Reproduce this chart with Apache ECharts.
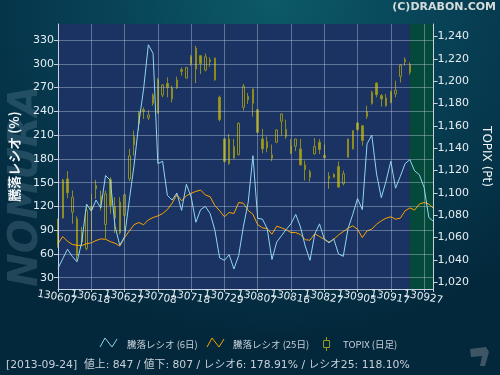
<!DOCTYPE html>
<html><head><meta charset="utf-8">
<script src="https://cdn.jsdelivr.net/npm/echarts@6/dist/echarts.min.js"></script>
<style>
html,body{margin:0;padding:0;background:#03263a}
#c{width:500px;height:375px;background:radial-gradient(ellipse 75% 90% at 55% 0%, #0c5a69 0%, #084257 45%, #03283c 100%)}
</style>
</head><body><div id="c"></div>
<script>
const categories = [
'130607','130610','130611','130612','130613','130614','130617','130618','130619','130620','130621','130624','130625','130626','130627','130628',
'130701','130702','130703','130704','130705','130708','130709','130710','130711','130712','130716','130717','130718','130719','130722','130723','130724','130725','130726','130729','130730','130731',
'130801','130802','130805','130806','130807','130808','130809','130812','130813','130814','130815','130816','130819','130820','130821','130822','130823','130826','130827','130828','130829','130830',
'130902','130903','130904','130905','130906','130909','130910','130911','130912','130913','130917','130918','130919','130920','130924','130925','130926','130927','130930',
'131001'];

// 騰落レシオ (6日)
const ratio6 = [42,54,66,57,50,75,123,114,128,118,159,153,95,71,82,128,172,225,268,324,
313,174,177,134,128,137,115,148,132,100,116,120,111,90,55,52,59,41,58,95,
125,184,105,104,92,53,75,83,91,98,110,94,70,52,85,98,79,74,79,60,
57,92,110,130,116,199,210,161,131,152,177,143,158,174,179,165,160,144,106,101];

// 騰落レシオ (25日)
const ratio25 = [73,82,76,72,71,70.6,73,74,77,79,78.6,75.6,73.5,70,80.7,89,97,99.7,96.8,103,
106,108,111,116,124,134.8,127,133.5,136.5,139,140.7,134.4,132.3,121,114.5,107,112.4,111,125,124,
115,110,97,93,92,85,95,93,90.5,87,87,84.5,78,77.3,85.5,82,78.5,75,78.5,84,
88.3,92.5,95.5,91.2,80.7,89.2,91.3,97.6,101.8,105.2,106.9,103.9,105.2,114.5,118.1,115.4,123,125,123,117.5];

// TOPIX daily: [open, close, low, high]
const topix = [
[1053.1,1056.6,1051,1076.9],[1077.5,1111.7,1077,1112.5],[1112.6,1100.1,1095.3,1119.5],[1082.8,1096.2,1072.4,1102.2],
[1076.9,1044.1,1039.7,1079],[1064.1,1056.1,1053,1069.5],[1050.1,1084.3,1048.6,1087.3],[1087.9,1085.2,1057.5,1099.2],
[1103.7,1106.7,1094.7,1111.7],[1097.1,1090.9,1084.3,1102.2],[1071.8,1099.2,1059,1102.2],[1112,1088.8,1081.4,1114.1],
[1087.9,1077.5,1064.1,1096.2],[1091.8,1064.1,1062.9,1096.2],[1079.9,1098.3,1066.5,1099.2],[1112.6,1133.2,1110.5,1139.4],
[1143,1150.4,1133.5,1155.8],[1161.7,1172.2,1155.8,1173.6],[1174.5,1173.1,1166.2,1176.6],[1167.1,1169.8,1165.3,1174.2],
[1180.2,1187.6,1178.1,1189.1],[1201.3,1171.3,1171,1202.8],[1187.6,1196.6,1185.6,1197.5],[1198,1194.5,1185.6,1203.4],
[1184.1,1193.9,1181.1,1196],[1194.5,1201,1193,1204],[1210.3,1208.8,1204.9,1212.3],[1202.8,1212.3,1202.5,1212.6],
[1215.9,1221.9,1213.8,1223.4],[1229.6,1210.9,1198.3,1231.7],[1222.8,1215.9,1206.4,1223.1],[1210,1221.9,1208.8,1224.9],
[1218.9,1217.7,1212.9,1221.3],[1220.7,1201.3,1200.4,1221],[1185.6,1165.6,1164.1,1187.1],[1148.3,1128.1,1127.5,1149.2],
[1126,1148.3,1125.4,1152.8],[1141.5,1131.1,1131,1148.3],[1134.2,1162.4,1133.5,1163],[1176.6,1195.4,1173.7,1197.5],
[1186.4,1183.5,1179.6,1189.4],[1180.2,1193,1168.3,1193.5],[1174.5,1154.3,1153.4,1175.1],[1148.3,1139.4,1135.5,1157.3],
[1146,1140.3,1136.4,1150.4],[1131.1,1134.1,1128.4,1143.3],[1145.4,1156.4,1144.5,1156.7],[1164.1,1170.7,1151.3,1171.3],
[1156.7,1150.4,1148.3,1165.6],[1135.5,1142.1,1134.9,1148.3],[1141.8,1148.3,1137.3,1148.6],[1139.4,1125.1,1124.5,1148.3],
[1125.1,1120.9,1111.1,1129],[1114.1,1118.9,1110.2,1120.7],[1134.9,1141.5,1134.3,1149.2],[1145.4,1138.8,1134.9,1148.3],
[1133.5,1131.7,1130.5,1143.3],[1115,1112.6,1103.7,1118.6],[1114.1,1116.5,1113.5,1117.7],[1123.6,1105.2,1104.6,1128.1],
[1108.2,1117.1,1106.7,1120.1],[1132,1148.3,1131.5,1148.6],[1139.4,1155.8,1139,1156.1],[1162.6,1156.7,1155.8,1163.2],
[1160.2,1146.9,1142.4,1160.5],[1168.3,1172.8,1166.2,1178.1],[1180.2,1190,1179,1191.5],[1198.3,1187.9,1185.6,1198.9],
[1187.1,1184.1,1177.2,1188.5],[1178.1,1185,1177.2,1188.5],[1190.6,1181.1,1180.2,1191.5],[1188.5,1192.1,1185.6,1200.4],
[1204.3,1214.4,1198.9,1215.3],[1219.2,1217.7,1213.8,1221.3],[1207.9,1215,1205.8,1216.8]];

const leftTicks = [30,60,90,120,150,180,210,240,270,300,330];
const rightTicks = [1020,1040,1060,1080,1100,1120,1140,1160,1180,1200,1220,1240];
const xLabelDates = ['130607','130618','130627','130708','130718','130729','130807','130816','130827','130905','130917','130927'];
const futureRange = ['130924','131001'];
const legendNames = ['騰落レシオ (6日)','騰落レシオ (25日)','TOPIX (日足)'];
const footerText = '[2013-09-24]  値上: 847 / 値下: 807 / レシオ6: 178.91% / レシオ25: 118.10%';
const titleText = '(C)DRABON.COM';

const FONT = 'DejaVu Sans, Noto Sans CJK JP, sans-serif';
const JP = 'Noto Sans CJK JP, DejaVu Sans, sans-serif';
const fmtComma = v => String(v).replace(/\B(?=(\d{3})+(?!\d))/g, ',');

const chart = echarts.init(document.getElementById('c'), null, {renderer:'canvas'});
chart.setOption({
  backgroundColor: 'transparent',
  animation: false,
  grid: {left: 57, right: 62, top: 24, bottom: 86, show: true, backgroundColor: '#1b3362', borderWidth: 0},
  xAxis: {
    type: 'category', data: categories, boundaryGap: false, z: 10,
    axisLine: {lineStyle: {color: '#c8d0dc', width: 1}},
    axisTick: {show: true, interval: 6, length: 3, lineStyle: {color: '#c8d0dc'}},
    axisLabel: {interval: 0, rotate: -10, align: 'center', verticalAlign: 'top', margin: 3,
      formatter: v => (xLabelDates.indexOf(v) >= 0 ? v : ''),
      color: '#e6ecf2', fontSize: 10.5, fontFamily: FONT, hideOverlap: false},
    splitLine: {show: true, interval: 6, lineStyle: {color: 'rgba(190,205,225,0.42)', width: 1}}
  },
  yAxis: [
    {type: 'value', position: 'left', min: 15.8, max: 350.2, z: 10,
     name: '騰落レシオ (%)', nameLocation: 'middle', nameRotate: 90, nameGap: 37,
     nameTextStyle: {color: '#f0f4f8', fontSize: 13, fontFamily: JP, fontWeight: 'bold'},
     axisLine: {show: true, lineStyle: {color: '#c8d0dc'}},
     axisTick: {show: true, length: 4, customValues: leftTicks, lineStyle: {color: '#c8d0dc'}},
     axisLabel: {customValues: leftTicks, color: '#e6ecf2', fontSize: 11, fontFamily: FONT, margin: 4},
     splitLine: {show: true, lineStyle: {color: 'rgba(190,205,225,0.42)', width: 1}}},
    {type: 'value', position: 'right', min: 1014, max: 1251.2, z: 10,
     name: 'TOPIX (Pt)', nameLocation: 'middle', nameRotate: -90, nameGap: 44,
     nameTextStyle: {color: '#f0f4f8', fontSize: 12, fontFamily: FONT},
     axisLine: {show: true, lineStyle: {color: '#c8d0dc'}},
     axisTick: {show: true, length: 4, customValues: rightTicks, lineStyle: {color: '#c8d0dc'}},
     axisLabel: {customValues: rightTicks, color: '#e6ecf2', fontSize: 11, fontFamily: FONT, margin: 4,
       formatter: fmtComma},
     splitLine: {show: false}}
  ],
  series: [
    {name: legendNames[2], type: 'candlestick', yAxisIndex: 1, data: topix, barWidth: 2,
     itemStyle: {color: 'rgba(0,0,0,0)', color0: '#9c9c20', borderColor: '#8c8c22', borderColor0: '#8c8c1e', borderWidth: 1},
     markArea: {silent: true, itemStyle: {color: '#04493a', opacity: 1},
       data: [[{xAxis: futureRange[0]}, {xAxis: futureRange[1]}]]}},
    {name: legendNames[1], type: 'line', yAxisIndex: 0, data: ratio25, symbol: 'none',
     lineStyle: {color: '#ffa200', width: 1}, itemStyle: {color: '#ffa200'}},
    {name: legendNames[0], type: 'line', yAxisIndex: 0, data: ratio6, symbol: 'none',
     lineStyle: {color: '#8fd6f2', width: 1}, itemStyle: {color: '#8fd6f2'}}
  ],
  graphic: [
    {type: 'text', x: 27, y: 186, rotation: Math.PI / 2, z: -10,
     style: {text: 'NOMURA', font: 'italic bold 40px DejaVu Sans', fill: 'rgba(95,135,155,0.32)', align: 'center', verticalAlign: 'middle'}},
    {type: 'text', right: 4, top: 2,
     style: {text: titleText, font: 'bold 11px DejaVu Sans', fill: '#d4dcdc'}},
    {type: 'polyline', shape: {points: [[100,347],[105,338],[112,347],[117,339]]},
     style: {stroke: '#8fd6f2', lineWidth: 1, fill: null}},
    {type: 'text', x: 127, y: 344, style: {text: legendNames[0], font: '9.5px ' + JP, fill: '#c8d0d8', verticalAlign: 'middle'}},
    {type: 'polyline', shape: {points: [[207,347],[212,338],[219,347],[224,339]]},
     style: {stroke: '#ffa200', lineWidth: 1, fill: null}},
    {type: 'text', x: 233, y: 344, style: {text: legendNames[1], font: '9.5px ' + JP, fill: '#c8d0d8', verticalAlign: 'middle'}},
    {type: 'line', shape: {x1: 326.5, y1: 337, x2: 326.5, y2: 351}, style: {stroke: '#9a9a22', lineWidth: 1}},
    {type: 'rect', shape: {x: 323.5, y: 340.5, width: 6, height: 7}, style: {stroke: '#9a9a22', fill: '#03283c', lineWidth: 1}},
    {type: 'text', x: 343, y: 344, style: {text: legendNames[2], font: '9.5px ' + JP, fill: '#c8d0d8', verticalAlign: 'middle'}},
    {type: 'text', x: 6, y: 365, style: {text: footerText, font: '10.8px ' + FONT, fill: '#c8d0d8', verticalAlign: 'middle'}},
    {type: 'polygon', shape: {points: [[470,349],[486,347],[489,352],[485,366],[480,366],[482,356],[471,357]]},
     style: {fill: '#3e5566'}}
  ]
});
</script>
</body></html>
